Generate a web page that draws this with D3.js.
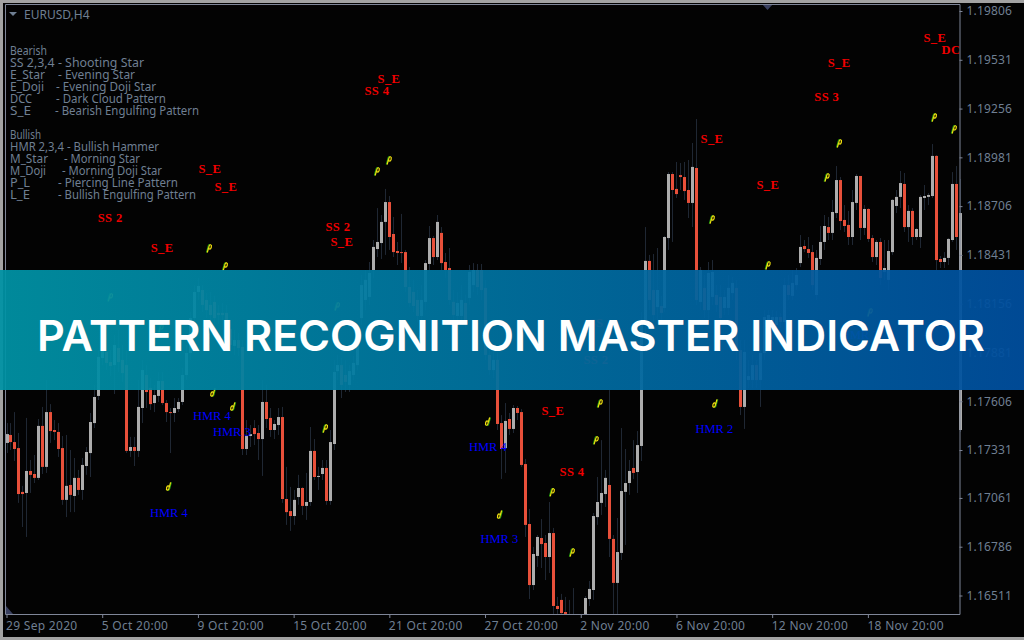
<!DOCTYPE html>
<html><head><meta charset="utf-8">
<script src="https://cdn.jsdelivr.net/npm/d3@7/dist/d3.min.js"></script>
<style>html,body{margin:0;padding:0;background:#030303;overflow:hidden}svg{display:block}text{white-space:pre}</style>
</head><body><div id="c"></div>
<script>
// Quotes in points (1 point = 0.00001), EURUSD H4, one entry per bar
const opens=[117371,117416,117376,117342,117095,117089,117213,117196,117174,117467,
117236,117545,117444,117433,117342,117050,117134,117072,117174,117106,
117241,117314,117483,117636,117850,117884,117827,117810,117906,117839,
117810,117326,117348,117326,117568,117754,117681,117596,117636,117720,
117596,117545,117540,117562,117602,117754,117878,118075,118222,118233,
118177,118149,118166,118104,118104,118104,118013,117918,117951,117912,
117337,117410,117455,117427,117393,117602,117512,117444,117472,117517,
117055,116987,116959,117066,117117,117016,117038,117326,117179,117196,
117230,117044,117365,117776,117810,117754,117698,117754,117810,118075,
118177,118194,118346,118464,118498,118617,118729,118549,118453,118447,
118447,118250,118222,118177,118087,118166,118380,118526,118419,118555,
118391,118357,118166,118087,118087,118160,118188,118261,118346,118346,
118245,117867,117782,117839,117483,117342,117506,117450,117568,117545,
117252,116914,116570,116734,116835,116807,116728,116863,116452,116486,
116418,116396,116396,116345,116345,116373,116491,116542,116953,117033,
117083,117134,116830,116582,116751,117095,117145,117230,117207,117354,
118064,118397,118233,118137,118143,118132,118526,118887,118803,118881,
118870,118797,118724,118921,118166,118245,118120,118194,118205,118194,
118132,118132,118216,118245,117895,117574,117726,117726,117810,117726,
117878,118008,118036,118036,118081,118053,118261,118200,118261,118385,
118481,118464,118447,118205,118408,118504,118588,118555,118667,118853,
118628,118600,118532,118724,118876,118583,118690,118526,118419,118504,
118335,118290,118447,118707,118758,118831,118588,118679,118532,118532,
118752,118758,118763,118989,118408,118391,118414,118515,118831,117444];
const closes=[117421,117376,117337,117083,117083,117213,117191,117174,117467,117236,
117545,117438,117433,117337,117050,117129,117078,117174,117106,117247,
117320,117489,117630,117856,117895,117822,117805,117923,117827,117765,
117326,117348,117326,117574,117782,117658,117590,117641,117720,117596,
117545,117540,117568,117602,117754,117878,118075,118222,118256,118149,
118120,118092,118075,118092,118092,118008,117923,117951,117906,117337,
117410,117421,117421,117393,117602,117506,117444,117478,117517,117055,
116981,116959,117050,117117,117016,117038,117326,117179,117185,117230,
117044,117376,117771,117810,117698,117715,117776,117822,117940,118261,
118290,118329,118476,118504,118617,118729,118532,118447,118442,118442,
118250,118160,118143,118087,118177,118385,118526,118419,118617,118385,
118346,118177,118092,118160,118177,118064,118335,118346,118250,118233,
117867,117782,117839,117478,117337,117495,117450,117568,117540,117247,
116909,116570,116745,116841,116801,116728,116863,116452,116435,116412,
116407,116373,116373,116373,116373,116497,116548,116959,117038,117089,
117174,116830,116582,116756,117100,117145,117213,117202,117359,118064,
118397,118177,118092,118233,118104,118532,118887,118797,118774,118870,
118791,118724,118927,118177,118346,118120,118329,118335,118149,118075,
118194,118245,118273,117895,117574,117884,117748,117810,117726,117878,
118081,118092,118081,118081,118053,118261,118205,118273,118318,118476,
118464,118442,118261,118414,118504,118594,118555,118673,118853,118622,
118594,118532,118729,118876,118583,118690,118521,118419,118504,118301,
118357,118453,118741,118758,118836,118588,118679,118532,118577,118758,
118763,118769,118989,118402,118391,118414,118521,118831,118532,118667];
const highs=[117483,117483,117545,117427,117129,117512,117275,117303,117506,117574,
117726,117590,117500,117483,117410,117416,117331,117286,117219,117286,
117348,117540,117698,117895,117951,117963,117895,117980,118008,117923,
117895,117405,117405,117726,117839,117810,117737,117698,117771,117771,
117613,117568,117624,117624,117794,117923,118109,118261,118301,118261,
118216,118222,118200,118149,118160,118149,118064,118008,117991,117951,
117500,117472,117500,117472,117726,117698,117568,117500,117568,117574,
117236,117123,117106,117191,117123,117202,117461,117393,117236,117275,
117275,117444,117839,117867,117850,117839,117810,117861,118008,118318,
118346,118391,118515,118695,118656,118803,118763,118645,118504,118662,
118459,118363,118290,118233,118261,118402,118594,118538,118656,118588,
118442,118470,118233,118222,118261,118205,118374,118385,118380,118380,
118290,117923,117884,117884,117528,117596,117540,117585,117579,117562,
117281,116999,116785,116852,116942,116852,117038,116892,116503,116520,
116503,116486,116553,116384,116384,116508,116593,116976,117179,117387,
117219,117669,116852,116948,117455,117337,117275,117387,117438,118109,
118588,118431,118436,118470,118200,118538,118898,118898,118955,118949,
118955,118966,119062,119197,118363,118318,118391,118402,118261,118261,
118233,118318,118307,118290,117951,117951,117839,117867,117839,117895,
118120,118120,118120,118115,118104,118301,118318,118346,118357,118543,
118515,118532,118487,118459,118594,118656,118645,118741,118932,118870,
118712,118679,118797,118887,118876,118712,118695,118543,118515,118526,
118515,118515,118746,118797,118904,118893,118712,118695,118583,118769,
118825,118780,119056,118994,118425,118447,118526,118898,118932,118859];
const lows=[117314,117331,117269,117033,116897,116841,117089,117145,117162,117196,
117202,117371,117387,117292,117022,116953,116981,116981,117078,117050,
117191,117179,117455,117613,117810,117782,117748,117647,117771,117715,
117314,117292,117241,117292,117483,117568,117557,117545,117602,117585,
117489,117314,117489,117545,117585,117726,117839,118036,118177,118109,
118075,118053,118030,118042,118008,117951,117884,117867,117861,117303,
117303,117348,117359,117275,117185,117455,117405,117393,117416,117033,
116909,116875,116909,117022,116965,116937,117016,117162,117106,117162,
117022,117022,117331,117726,117624,117658,117658,117726,117782,118036,
118120,118149,118301,118419,118408,118431,118459,118419,118374,118385,
118222,118137,118109,118053,118036,118120,118346,118374,118402,118346,
118301,118149,118036,118019,118053,118019,118149,118222,118205,118177,
117839,117754,117737,117444,117168,117202,117416,117427,117500,117236,
116841,116491,116542,116672,116666,116598,116638,116407,116407,116407,
116407,116345,116345,116320,116320,116345,116452,116486,116909,116965,
117010,116728,116407,116407,116711,116796,117078,117168,117089,117269,
117951,118120,118053,118036,118064,118109,118459,118504,118752,118797,
118741,118639,118588,118149,118120,118075,118064,118149,118109,118036,
118092,118092,118177,117839,117528,117450,117681,117681,117681,117574,
117839,117980,117997,117997,118019,118008,118177,118177,118233,118363,
118447,118414,118233,118177,118374,118459,118515,118515,118639,118571,
118560,118487,118487,118684,118515,118543,118504,118391,118374,118261,
118290,118233,118431,118667,118695,118560,118504,118487,118515,118470,
118684,118712,118752,118346,118357,118357,118374,118504,118459,117433];

const priceTicks=[1.19806,1.19531,1.19256,1.18981,1.18706,1.18431,1.18156,1.17881,1.17606,1.17331,1.17061,1.16786,1.16511];
const timeTickBars=[0,24,48,72,96,120,144,168,192,216];
const timeTickLabels=["29 Sep 2020","5 Oct 20:00","9 Oct 20:00","15 Oct 20:00","21 Oct 20:00","27 Oct 20:00","2 Nov 20:00","6 Nov 20:00","12 Nov 20:00","18 Nov 20:00"];

const legendNames=["Bearish","SS 2,3,4 - Shooting Star","E_Star","E_Doji","DCC","S_E","","Bullish","HMR 2,3,4 - Bullish Hammer","M_Star","M_Doji","P_L","L_E"];
const legendNameWidths=[37,134,35,34,22,21,0,31,149,38,36,20,20];
const legendDescriptions=["","","- Evening Star","- Evening Doji Star","- Dark Cloud Pattern","- Bearish Engulfing Pattern","","","","- Morning Star","- Morning Doji Star","- Piercing Line Pattern","- Bullish Engulfing Pattern"];
const legendDescOffsets=[0,0,48,46,46,45,0,0,0,54,52,48,48];
const legendDescWidths=[0,0,77,100,110,144,0,0,0,76,100,120,138];

const bearLabels=["SS 2","S_E","S_E","S_E","SS 2","S_E","S_E","SS 4","S_E","SS 4","S_E","S_E","SS 3","S_E","S_E","DCC","SS","SS 2"];
const bearLabelBars=[26,39,51,55,83.1,84.1,95.9,92.9,137,141.8,176.9,190.9,205.7,208.8,232.8,238,147.8,147.8];
const bearLabelPrices=[118639,118470,118915,118814,118588,118504,119423,119355,117551,117207,119084,118825,119321,119513,119654,119586,118047,117839];
const bullLabels=["HMR 4","HMR 4","HMR 3","HMR 4","HMR 3","HMR 2","HMR 2"];
const bullLabelBars=[40.7,51.5,56.5,120.7,123.6,177.5,214];
const bullLabelPrices=[116976,117523,117433,117348,116830,117450,117980];

const bearArrowBars=[50.8,54.8,92.9,95.9,148.8,147.8,136.8,141.8,176.9,190.9,205.7,208.8,232.6,237.6,79.9,26,82.9,38.7,216.5];
const bearArrowPrices=[118470,118368,118904,118966,117596,117388,117095,116756,118633,118374,118870,119062,119208,119141,117455,118194,118143,118019,118109];
const bullArrowBars=[40.7,51.8,56.8,120.7,123.7,177.7];
const bullArrowPrices=[117123,117653,117574,117489,116965,117591];

const bannerTitle="PATTERN RECOGNITION MASTER INDICATOR";
const chartSymbol="EURUSD,H4";

const W=1024,H=640,axisX=959.5,axisY=614,leftX=5,topY=4;
const POINT=1e-5, UI="'Noto Sans',sans-serif", INK="#6f7f92", LINE="#7f8698";
const x=d3.scaleLinear().domain([0,239]).range([6.5,959.6]);
const y=d3.scaleLinear().domain([1.19806,1.16511]).range([11,595.5]);
const px=p=>y(p*POINT);

const svg=d3.select("#c").append("svg").attr("width",W).attr("height",H);
const defs=svg.append("defs");
defs.append("clipPath").attr("id","plot").append("rect").attr("x",leftX).attr("y",topY).attr("width",axisX-leftX+3).attr("height",axisY-topY);
defs.append("clipPath").attr("id","textplot").append("rect").attr("x",leftX).attr("y",topY).attr("width",axisX-leftX).attr("height",axisY-topY);
const grad=defs.append("linearGradient").attr("id","bn").attr("x1",0).attr("x2",1).attr("y1",0).attr("y2",0);
grad.append("stop").attr("offset",0).attr("stop-color","#0092a4");
grad.append("stop").attr("offset",.5).attr("stop-color","#00709f");
grad.append("stop").attr("offset",1).attr("stop-color","#004e9e");

svg.append("rect").attr("width",W).attr("height",H).attr("fill","#030303");
// window frame
svg.append("rect").attr("width",W).attr("height",3).attr("fill","#a3a3a3");
svg.append("rect").attr("width",3).attr("height",H).attr("fill","#a3a3a3");
svg.append("rect").attr("y",637).attr("width",W).attr("height",3).attr("fill","#a3a3a3");

// legend comment lines
const legend=svg.append("g").attr("font-family",UI).attr("font-size",12).attr("fill",INK);
legendNames.forEach((t,k)=>{
  const yy=55+k*12;
  if(t) legend.append("text").attr("x",10).attr("y",yy).attr("textLength",legendNameWidths[k]).attr("lengthAdjust","spacingAndGlyphs").text(t);
  if(legendDescriptions[k]) legend.append("text").attr("x",10+legendDescOffsets[k]).attr("y",yy).attr("textLength",legendDescWidths[k]).attr("lengthAdjust","spacingAndGlyphs").text(legendDescriptions[k]);
});
svg.append("text").attr("x",24).attr("y",19).attr("font-family",UI).attr("font-size",12).attr("fill",INK).text(chartSymbol);
svg.append("path").attr("d",d3.line()([[9,12],[17,12],[13,16]])+"Z").attr("fill",INK);
svg.append("path").attr("d",d3.line()([[762,4],[773,4],[767.5,10]])+"Z").attr("fill","#39405f");
svg.append("path").attr("d",d3.line()([[6,606],[13,614],[6,614]])+"Z").attr("fill","#39405f");

// candles
const bars=d3.range(opens.length);
const plot=svg.append("g").attr("clip-path","url(#plot)");
plot.selectAll("line.w").data(bars).join("line").attr("class","w")
  .attr("x1",i=>Math.round(x(i))+.5).attr("x2",i=>Math.round(x(i))+.5)
  .attr("y1",i=>px(highs[i])).attr("y2",i=>px(lows[i]))
  .attr("stroke","#1f2733").attr("stroke-width",1);
plot.selectAll("rect.b").data(bars).join("rect").attr("class","b")
  .attr("x",i=>Math.round(x(i))-1).attr("width",3)
  .attr("y",i=>px(Math.max(opens[i],closes[i])))
  .attr("height",i=>Math.max(1,px(Math.min(opens[i],closes[i]))-px(Math.max(opens[i],closes[i]))))
  .attr("fill",i=>closes[i]>=opens[i]?"#adadad":"#e8503a");

// signal arrows
function arrow(g,bx,p,flip){
  const s=g.append("g").attr("transform",`translate(${x(bx)},${px(p)})`+(flip?" rotate(180)":""));
  const stem="M-1.8,4.5 L-0.4,-0.5";
  s.append("path").attr("d",stem).attr("transform","translate(-0.8,0)").attr("stroke","#1f9b10").attr("stroke-width",1.2);
  s.append("ellipse").attr("cx",-0.2).attr("cy",-1.2).attr("rx",1.3).attr("ry",2.2).attr("transform","rotate(15)").attr("fill","none").attr("stroke","#1f9b10").attr("stroke-width",1);
  s.append("path").attr("d",stem).attr("stroke","#f0e010").attr("stroke-width",1.2);
  s.append("ellipse").attr("cx",0.7).attr("cy",-1.3).attr("rx",1.3).attr("ry",2.2).attr("transform","rotate(15)").attr("fill","#3a3000").attr("stroke","#f0e010").attr("stroke-width",1.1);
}
const marks=svg.append("g").attr("clip-path","url(#textplot)");
bearArrowBars.forEach((b,k)=>arrow(marks,b,bearArrowPrices[k],false));
bullArrowBars.forEach((b,k)=>arrow(marks,b,bullArrowPrices[k],true));

// pattern labels
marks.selectAll("text.bear").data(bearLabels).join("text").attr("class","bear")
  .attr("x",(d,k)=>x(bearLabelBars[k])).attr("y",(d,k)=>px(bearLabelPrices[k])+4)
  .attr("text-anchor","middle").attr("font-family","'Liberation Serif',serif").attr("font-weight",700).attr("font-size",12.5)
  .attr("letter-spacing",.4).attr("fill","#f00000").text(d=>d);
marks.selectAll("text.bull").data(bullLabels).join("text").attr("class","bull")
  .attr("x",(d,k)=>x(bullLabelBars[k])).attr("y",(d,k)=>px(bullLabelPrices[k])+4)
  .attr("text-anchor","middle").attr("font-family","'Liberation Serif',serif").attr("font-size",12.5)
  .attr("fill","#0000ff").text(d=>d);

// axes
const ay=d3.axisRight(y).tickValues(priceTicks).tickFormat(d3.format(".5f")).tickSize(3).tickPadding(4);
const gy=svg.append("g").attr("transform",`translate(${axisX},0)`).call(ay);
const ax=d3.axisBottom(x).tickValues(timeTickBars).tickFormat((d,k)=>timeTickLabels[k]).tickSize(4).tickPadding(3);
const gx=svg.append("g").attr("transform",`translate(0,${axisY})`).call(ax);
[gy,gx].forEach(g=>{
  g.select(".domain").remove();
  g.selectAll("line").attr("stroke",LINE);
  g.selectAll("text").attr("font-family",UI).attr("font-size",12).attr("fill",INK);
});
gy.selectAll("text").attr("letter-spacing",.15);
gx.selectAll("text").attr("text-anchor","start").attr("dx",-1).attr("letter-spacing",.3);
svg.append("path").attr("d",d3.line()([[leftX+.5,axisY+.5],[leftX+.5,topY+.5],[axisX+.5,topY+.5],[axisX+.5,axisY+.5],[leftX+.5,axisY+.5]]))
  .attr("fill","none").attr("stroke",LINE);

// banner
svg.append("rect").attr("x",0).attr("y",270).attr("width",W).attr("height",120).attr("fill","url(#bn)").attr("opacity",.94);
svg.append("text").attr("x",37).attr("y",351).attr("font-family","Inter,'Open Sans',sans-serif").attr("font-weight",600)
  .attr("font-size",43).attr("fill","#ffffff").attr("textLength",948).attr("lengthAdjust","spacingAndGlyphs").text(bannerTitle);
</script></body></html>
